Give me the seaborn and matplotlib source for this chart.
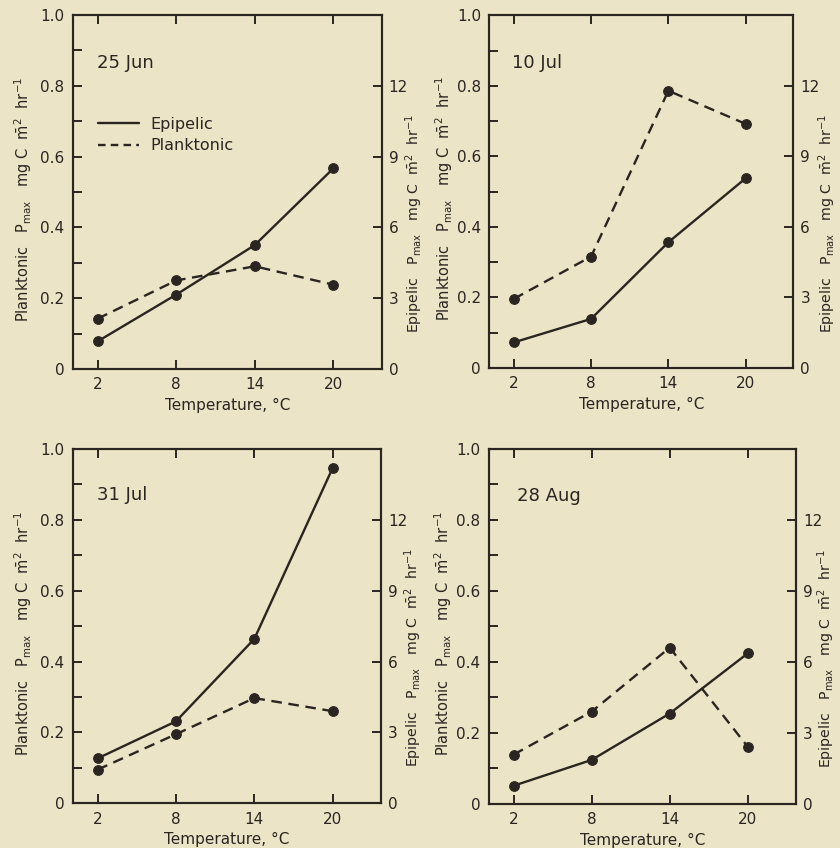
import matplotlib
matplotlib.use("Agg")
import matplotlib.pyplot as plt
import pandas as pd
import seaborn as sns
from matplotlib.lines import Line2D

# ---------------- data ----------------
temps = [2, 8, 14, 20]
temp_labels = ["2", "8", "14", "20"]
panel_dates = ["25 Jun", "10 Jul", "31 Jul", "28 Aug"]

# planktonic Pmax (left axis, mg C m-2 hr-1)
plank_25jun = [0.142, 0.250, 0.290, 0.238]
plank_10jul = [0.196, 0.316, 0.786, 0.692]
plank_31jul = [0.095, 0.195, 0.297, 0.260]
plank_28aug = [0.139, 0.260, 0.440, 0.161]

# epipelic Pmax (right axis, mg C m-2 hr-1)
epi_25jun = [1.17, 3.15, 5.25, 8.50]
epi_10jul = [1.09, 2.09, 5.35, 8.07]
epi_31jul = [1.90, 3.47, 6.96, 14.2]
epi_28aug = [0.77, 1.86, 3.82, 6.36]

left_ticks = [0, 0.2, 0.4, 0.6, 0.8, 1.0]
left_tick_labels = ["0", "0.2", "0.4", "0.6", "0.8", "1.0"]
left_minor = [0.1, 0.3, 0.5, 0.7, 0.9]
right_ticks = [0, 3, 6, 9, 12]
right_tick_labels = ["0", "3", "6", "9", "12"]

plank_sets = [plank_25jun, plank_10jul, plank_31jul, plank_28aug]
epi_sets = [epi_25jun, epi_10jul, epi_31jul, epi_28aug]

# ---------------- style ----------------
sns.set_theme(style="ticks")
bg = "#ebe4c6"
ink = "#2a2520"
plt.rcParams["font.family"] = ["DejaVu Sans"]
plt.rcParams["text.color"] = ink
plt.rcParams["axes.labelcolor"] = ink
plt.rcParams["xtick.color"] = ink
plt.rcParams["ytick.color"] = ink
plt.rcParams["mathtext.fontset"] = "dejavusans"

fig = plt.figure(figsize=(8.4, 8.48), dpi=100, facecolor=bg)

positions = [
    [0.0866, 0.5649, 0.368, 0.4175],
    [0.5825, 0.5660, 0.362, 0.4160],
    [0.0866, 0.0527, 0.367, 0.4178],
    [0.5820, 0.0519, 0.3655, 0.4190],
]
title_pos = [(0.078, 0.864), (0.074, 0.864), (0.078, 0.869), (0.090, 0.867)]
left_label_x = [-0.161, -0.149, -0.161, -0.149]
right_label_x = [1.105, 1.112, 1.105, 1.100]

left_label = (r"Planktonic   P$_{\mathrm{max}}$   mg C  "
              r"$\bar{\mathrm{m}}^{2}$  hr$^{-1}$")
right_label = (r"Epipelic   P$_{\mathrm{max}}$   mg C  "
               r"$\bar{\mathrm{m}}^{2}$  hr$^{-1}$")

lw = 1.7
for i in range(4):
    ax = fig.add_axes(positions[i])
    ax.set_facecolor("none")
    ax2 = ax.twinx()
    ax2.set_facecolor("none")

    dfp = pd.DataFrame({"Temperature": temps, "Pmax": plank_sets[i]})
    dfe = pd.DataFrame({"Temperature": temps, "Pmax": epi_sets[i]})

    sns.lineplot(data=dfp, x="Temperature", y="Pmax", ax=ax, color=ink,
                 linewidth=lw, marker="o", markersize=7,
                 markeredgecolor=ink, markerfacecolor=ink, errorbar=None)
    ax.lines[0].set_dashes((4.5, 2.8))
    sns.lineplot(data=dfe, x="Temperature", y="Pmax", ax=ax2, color=ink,
                 linewidth=lw, marker="o", markersize=7,
                 markeredgecolor=ink, markerfacecolor=ink, errorbar=None)

    ax.set_xlim(0.1, 23.7)
    ax.set_ylim(0, 1.0)
    ax2.set_ylim(0, 15)

    ax.set_xticks(temps)
    ax.set_xticklabels(temp_labels)
    ax.set_yticks(left_ticks)
    ax.set_yticklabels(left_tick_labels)
    ax.set_yticks(left_minor, minor=True)
    ax2.set_yticks(right_ticks)
    ax2.set_yticklabels(right_tick_labels)

    for a in (ax, ax2):
        for s in a.spines.values():
            s.set_linewidth(1.5)
            s.set_color(ink)
            s.set_visible(True)
    ax.tick_params(axis="both", which="both", direction="in", length=6.5,
                   width=1.4, top=True, right=False, labelsize=11, pad=6)
    ax.tick_params(axis="y", which="minor", length=6.5)
    ax2.tick_params(axis="y", which="both", direction="in", length=6.5,
                    width=1.4, labelsize=11, pad=5)

    ax.set_xlabel("Temperature, °C", fontsize=11, labelpad=4)
    ax.set_ylabel(left_label, fontsize=10.5)
    ax.yaxis.set_label_coords(left_label_x[i], 0.48)
    ax.yaxis.label.set_verticalalignment("center")
    ax2.set_ylabel(right_label, fontsize=10.2)
    ax2.yaxis.set_label_coords(right_label_x[i], 0.41)
    ax2.yaxis.label.set_verticalalignment("center")

    ax.text(title_pos[i][0], title_pos[i][1], panel_dates[i],
            transform=ax.transAxes, fontsize=13, ha="left", va="center",
            color=ink)

    if i == 0:
        handles = [Line2D([], [], color=ink, lw=lw),
                   Line2D([], [], color=ink, lw=lw, dashes=(3.2, 2.2))]
        ax.legend(handles, ["Epipelic", "Planktonic"], loc="upper left",
                  bbox_to_anchor=(0.06, 0.73), frameon=False, fontsize=11.5,
                  handlelength=2.6, handletextpad=0.7, labelspacing=0.4,
                  borderaxespad=0)

fig.savefig("out.png", dpi=100, facecolor=bg)
